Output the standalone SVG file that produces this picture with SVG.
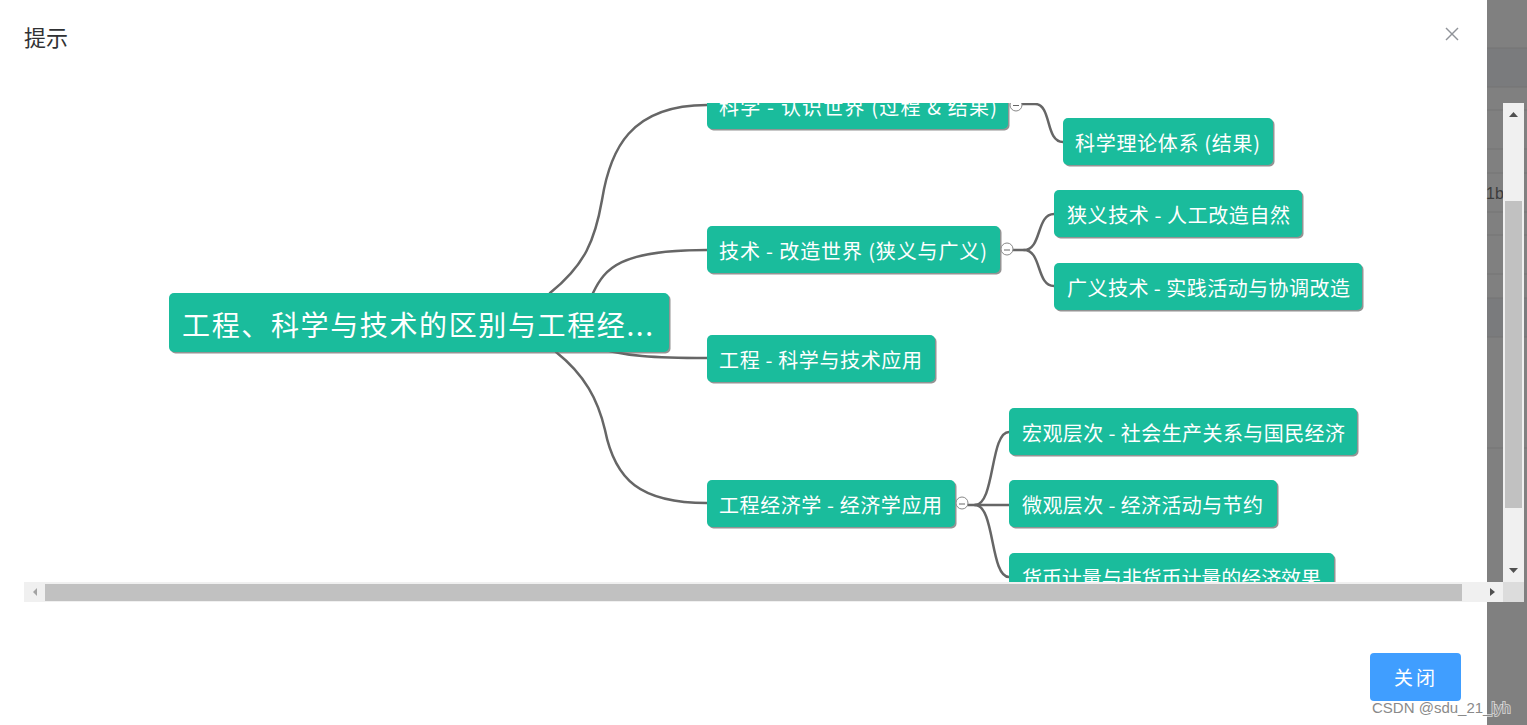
<svg xmlns="http://www.w3.org/2000/svg" width="1527" height="725" viewBox="0 0 1527 725">
<style>
.nd{fill:#1abc9c}
.sh{fill:#6f6f6f;opacity:0.75}
.t{font-family:"Noto Sans CJK SC","Microsoft YaHei",sans-serif;fill:#ffffff;font-size:20px}
.rt{font-size:28px}
.cn{fill:none;stroke:#666666;stroke-width:2.5;stroke-linecap:round}
.tg{fill:#ffffff;stroke:#888888;stroke-width:1}
</style>
<defs>
<clipPath id="vp"><rect x="24" y="103" width="1479" height="479"/></clipPath>
</defs>
<rect x="0" y="0" width="1527" height="725" fill="#ffffff"/>
<g id="background">
<rect x="1487" y="0" width="40" height="725" fill="#808080"/>
<rect x="1487" y="48" width="40" height="39" fill="#7a7b7d"/>
<rect x="1487" y="298" width="40" height="39" fill="#7a7b7d"/>
<g stroke="#747474" stroke-width="1">
<line x1="1487" y1="48" x2="1527" y2="48"/>
<line x1="1487" y1="87" x2="1527" y2="87"/>
<line x1="1487" y1="110" x2="1527" y2="110"/>
<line x1="1487" y1="149" x2="1527" y2="149"/>
<line x1="1487" y1="173" x2="1527" y2="173"/>
<line x1="1487" y1="212" x2="1527" y2="212"/>
<line x1="1487" y1="235" x2="1527" y2="235"/>
<line x1="1487" y1="274" x2="1527" y2="274"/>
<line x1="1487" y1="298" x2="1527" y2="298"/>
<line x1="1487" y1="337" x2="1527" y2="337"/>
<line x1="1487" y1="448" x2="1527" y2="448"/>
</g>
<text x="1486" y="199" font-family="Liberation Sans, sans-serif" font-size="16" fill="#3c3c3c">1b</text>
</g>
<g id="title"><text x="24" y="46" font-family="Noto Sans CJK SC, sans-serif" font-size="22" fill="#303133">提示</text></g>
<g id="close" stroke="#909399" stroke-width="1.4"><line x1="1446" y1="28" x2="1458" y2="40"/><line x1="1458" y1="28" x2="1446" y2="40"/></g>

<g clip-path="url(#vp)">
<g id="connectors">
<path class="cn" d="M550 293 C585 265 595 240 602 200 C610 150 630 105 707 105"/>
<path class="cn" d="M593 293 C605 268 620 250 707 250"/>
<path class="cn" d="M590 345 C620 357 660 358 707 358"/>
<path class="cn" d="M556 352 C585 375 598 400 605 430 C615 480 640 503 707 503"/>
<path class="cn" d="M1022 104 L1035 104 C1052 104 1045 142 1063 142"/>
<path class="cn" d="M1013 250 L1024 250 C1042 250 1036 214 1054 214"/>
<path class="cn" d="M1024 250 C1042 250 1036 286 1054 286"/>
<path class="cn" d="M968 505 L975 505 C995 505 990 432 1009 432"/>
<path class="cn" d="M975 505 L1009 505"/>
<path class="cn" d="M975 505 C995 505 990 577 1009 577"/>
</g>

<g id="root">
<rect class="sh" x="170.5" y="294.5" width="500" height="59" rx="5"/>
<rect class="nd" x="169" y="293" width="500" height="59" rx="5"/>
<text class="t rt" x="182" y="324" dominant-baseline="central" textLength="471" lengthAdjust="spacing">工程、科学与技术的区别与工程经...</text>
</g>
<g id="nA">
<rect class="sh" x="708.5" y="83.5" width="301" height="47" rx="5"/>
<rect class="nd" x="707" y="82" width="301" height="47" rx="5"/>
<text class="t" x="719" y="106" dominant-baseline="central" textLength="278" lengthAdjust="spacing">科学 - 认识世界 (过程 &amp; 结果)</text>
<circle class="tg" cx="1016" cy="105" r="6"/><line x1="1013" y1="105.5" x2="1019" y2="105.5" stroke="#666" stroke-width="1"/>
</g>
<g id="nB">
<rect class="sh" x="708.5" y="227.5" width="293" height="47" rx="5"/>
<rect class="nd" x="707" y="226" width="293" height="47" rx="5"/>
<text class="t" x="719" y="250" dominant-baseline="central" textLength="268" lengthAdjust="spacing">技术 - 改造世界 (狭义与广义)</text>
<circle class="tg" cx="1007" cy="249" r="6"/><line x1="1004" y1="250" x2="1010" y2="250" stroke="#666" stroke-width="1"/>
</g>
<g id="nC">
<rect class="sh" x="708.5" y="336.5" width="228" height="47" rx="5"/>
<rect class="nd" x="707" y="335" width="228" height="47" rx="5"/>
<text class="t" x="719" y="359" dominant-baseline="central" textLength="203" lengthAdjust="spacing">工程 - 科学与技术应用</text>
</g>
<g id="nD">
<rect class="sh" x="708.5" y="481.5" width="248" height="47" rx="5"/>
<rect class="nd" x="707" y="480" width="248" height="47" rx="5"/>
<text class="t" x="719" y="504" dominant-baseline="central" textLength="223" lengthAdjust="spacing">工程经济学 - 经济学应用</text>
<circle class="tg" cx="962" cy="503" r="6"/><line x1="959" y1="504" x2="965" y2="504" stroke="#666" stroke-width="1"/>
</g>
<g id="nA1">
<rect class="sh" x="1064.5" y="119.5" width="210" height="47" rx="5"/>
<rect class="nd" x="1063" y="118" width="210" height="47" rx="5"/>
<text class="t" x="1075" y="142" dominant-baseline="central" textLength="185" lengthAdjust="spacing">科学理论体系 (结果)</text>
</g>
<g id="nB1">
<rect class="sh" x="1055.5" y="191.5" width="248" height="47" rx="5"/>
<rect class="nd" x="1054" y="190" width="248" height="47" rx="5"/>
<text class="t" x="1067" y="214" dominant-baseline="central" textLength="223" lengthAdjust="spacing">狭义技术 - 人工改造自然</text>
</g>
<g id="nB2">
<rect class="sh" x="1055.5" y="264.5" width="308" height="47" rx="5"/>
<rect class="nd" x="1054" y="263" width="308" height="47" rx="5"/>
<text class="t" x="1067" y="287" dominant-baseline="central" textLength="283" lengthAdjust="spacing">广义技术 - 实践活动与协调改造</text>
</g>
<g id="nD1">
<rect class="sh" x="1010.5" y="409.5" width="348" height="47" rx="5"/>
<rect class="nd" x="1009" y="408" width="348" height="47" rx="5"/>
<text class="t" x="1022" y="432" dominant-baseline="central" textLength="323" lengthAdjust="spacing">宏观层次 - 社会生产关系与国民经济</text>
</g>
<g id="nD2">
<rect class="sh" x="1010.5" y="481.5" width="268" height="47" rx="5"/>
<rect class="nd" x="1009" y="480" width="268" height="47" rx="5"/>
<text class="t" x="1022" y="504" dominant-baseline="central" textLength="241" lengthAdjust="spacing">微观层次 - 经济活动与节约</text>
</g>
<g id="nD3">
<rect class="sh" x="1010.5" y="554.5" width="325" height="47" rx="5"/>
<rect class="nd" x="1009" y="553" width="325" height="47" rx="5"/>
<text class="t" x="1022" y="577" dominant-baseline="central" textLength="299" lengthAdjust="spacing">货币计量与非货币计量的经济效果</text>
</g>
</g>

<g id="hscroll">
<rect x="24" y="582" width="1479" height="20" fill="#f0f0f0"/>
<rect x="45" y="584" width="1417" height="17" fill="#c1c1c1"/>
<path d="M37 588 L33 592 L37 596 Z" fill="#a3a3a3"/>
<path d="M1490 588 L1495 592 L1490 596 Z" fill="#505050"/>
</g>
<g id="vscroll">
<rect x="1503" y="103" width="21" height="479" fill="#f0f0f0"/>
<rect x="1505" y="201" width="17" height="307" fill="#c1c1c1"/>
<path d="M1509 117 L1513.5 112 L1518 117 Z" fill="#505050"/>
<path d="M1509 568 L1513.5 573 L1518 568 Z" fill="#505050"/>
<rect x="1503" y="582" width="21" height="20" fill="#dcdcdc"/>
</g>
<g id="btn">
<rect x="1370" y="653" width="91" height="48" rx="4" fill="#409eff"/>
<text x="1416" y="685" text-anchor="middle" font-family="Noto Sans CJK SC, sans-serif" font-size="19" letter-spacing="3" fill="#ffffff">关闭</text>
</g>
<text x="1372" y="713" font-family="Liberation Sans, sans-serif" font-size="15" fill="#8a8a8a" stroke="#ffffff" stroke-width="2" paint-order="stroke" stroke-opacity="0.6">CSDN @sdu_21_lyh</text>
</svg>
